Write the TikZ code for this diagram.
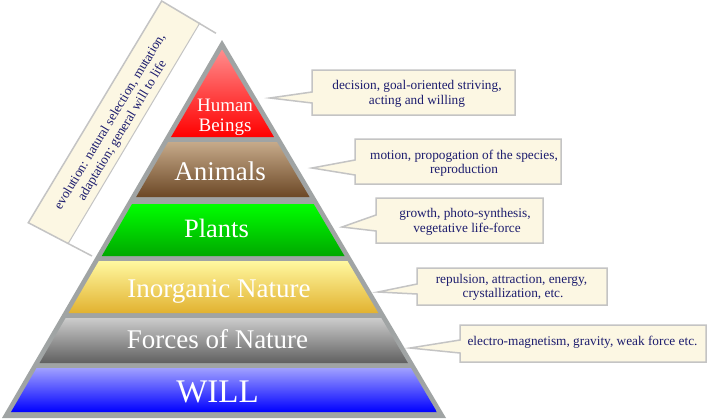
\documentclass[tikz,border=0pt]{standalone}
\usepackage{fontspec}
\setmainfont{Liberation Serif}
\definecolor{pyrgray}{RGB}{160,164,164}
\definecolor{creamfill}{RGB}{252,247,227}
\definecolor{boxline}{RGB}{196,196,196}
\definecolor{navytext}{RGB}{28,28,110}
\newcommand\pyrband[4]{%
  \pgfmathsetmacro\pyrLT{222-0.58201*(#1-40)+5.5}%
  \pgfmathsetmacro\pyrRT{222+0.59259*(#1-40)-5.5}%
  \pgfmathsetmacro\pyrLB{222-0.58201*(#2-40)+5.5}%
  \pgfmathsetmacro\pyrRB{222+0.59259*(#2-40)-5.5}%
  \shade[top color=#3,bottom color=#4] (\pyrLT,#1) -- (\pyrRT,#1) -- (\pyrRB,#2) -- (\pyrLB,#2) -- cycle;}
\newcommand\calloutbox[9]{% name x1 y1 x2 y2 tipx tipy base1 base2
  \coordinate (#1tip) at (#6,#7);
  \draw[callout] (#2,#3) -- (#4,#3) -- (#4,#5) -- (#2,#5) -- (#2,#9) -- (#1tip) -- (#2,#8) -- cycle;}
\begin{document}
\begin{tikzpicture}[x=1pt,y=-1pt,
  callout/.style={draw=boxline,line width=1.5pt,fill=creamfill,line join=miter},
  ctext/.style={text=navytext,inner sep=0pt,anchor=base,font=\fontsize{13.3}{15}\selectfont},
  rtext/.style={text=navytext,inner sep=0pt,anchor=center,rotate=59,font=\fontsize{13.3}{15}\selectfont},
  pyrtext/.style={text=white,inner sep=0pt,anchor=base},
  bracketline/.style={draw=boxline,line width=1.5pt}]
\useasboundingbox (0,0) rectangle (708,418);
\fill[white] (0,0) rectangle (708,418);

% rotated side box
\coordinate (bA) at (161.7,1);
\coordinate (bB) at (216,33.3);
\coordinate (bD) at (28.3,222.7);
\coordinate (bC) at (92,256);
\coordinate (bAp) at (200,22.7);
\coordinate (bDp) at (68.3,243.3);
\fill[creamfill] (bA) -- (bAp) -- (bDp) -- (bD) -- cycle;
\draw[bracketline] (bB) -- (bA) -- (bD) -- (bC);
\draw[draw=boxline,line width=1pt] (bAp) -- (bDp);
\node[rtext] (evo1) at (110,121.7) {evolution: natural selection, mutation,};
\node[rtext] (evo2) at (122.5,130.8) {adaptation; general will to life};

% pyramid
\fill[pyrgray] (222,40) -- (446,418) -- (2,418) -- cycle;
\pyrband{50}{137}{{rgb,255:red,255;green,140;blue,140}}{{rgb,255:red,255;green,0;blue,0}}
\pyrband{142}{197}{{rgb,255:red,198;green,170;blue,138}}{{rgb,255:red,108;green,72;blue,38}}
\pyrband{204}{256}{{rgb,255:red,0;green,255;blue,0}}{{rgb,255:red,0;green,168;blue,0}}
\pyrband{261}{313}{{rgb,255:red,255;green,248;blue,160}}{{rgb,255:red,226;green,178;blue,48}}
\pyrband{318}{363}{{rgb,255:red,204;green,204;blue,204}}{{rgb,255:red,96;green,96;blue,96}}
\pyrband{368}{412}{{rgb,255:red,160;green,160;blue,255}}{{rgb,255:red,0;green,0;blue,255}}

\node[pyrtext,font=\fontsize{19}{21}\selectfont] (hb1) at (225,111) {Human};
\node[pyrtext,font=\fontsize{19}{21}\selectfont] (hb2) at (225,131) {Beings};
\node[pyrtext,font=\fontsize{27}{30}\selectfont] (an) at (220,180) {Animals};
\node[pyrtext,font=\fontsize{26.5}{30}\selectfont] (pl) at (216.5,237) {Plants};
\node[pyrtext,font=\fontsize{27}{30}\selectfont] (in) at (219,297) {Inorganic Nature};
\node[pyrtext,font=\fontsize{27}{30}\selectfont] (fo) at (217.5,348) {Forces of Nature};
\node[pyrtext,font=\fontsize{33}{36}\selectfont] (wi) at (217.5,402) {WILL};

% callouts
\calloutbox{ca}{312}{70}{515}{115}{270}{98}{92}{103}
\node[ctext] (ca1) at (417,89) {decision, goal-oriented striving,};
\node[ctext] (ca2) at (417,104) {acting and willing};

\calloutbox{cb}{355}{139}{561}{184}{312}{168}{160}{175}
\node[ctext] (cb1) at (464,159) {motion, propogation of the species,};
\node[ctext] (cb2) at (464,173) {reproduction};

\calloutbox{cc}{376}{198}{543}{243}{342}{227}{215}{231}
\node[ctext] (cc1) at (465,217) {growth, photo-synthesis,};
\node[ctext] (cc2) at (467,232) {vegetative life-force};

\calloutbox{cd}{417}{268}{607}{305}{378}{292}{284}{294}
\node[ctext] (cd1) at (511.5,283.3) {repulsion, attraction, energy,};
\node[ctext] (cd2) at (513,297.3) {crystallization, etc.};

\calloutbox{ce}{460}{325}{706}{362}{410}{348}{340}{353}
\node[ctext] (ce1) at (582.5,345.7) {electro-magnetism, gravity, weak force etc.};
\end{tikzpicture}
\end{document}
